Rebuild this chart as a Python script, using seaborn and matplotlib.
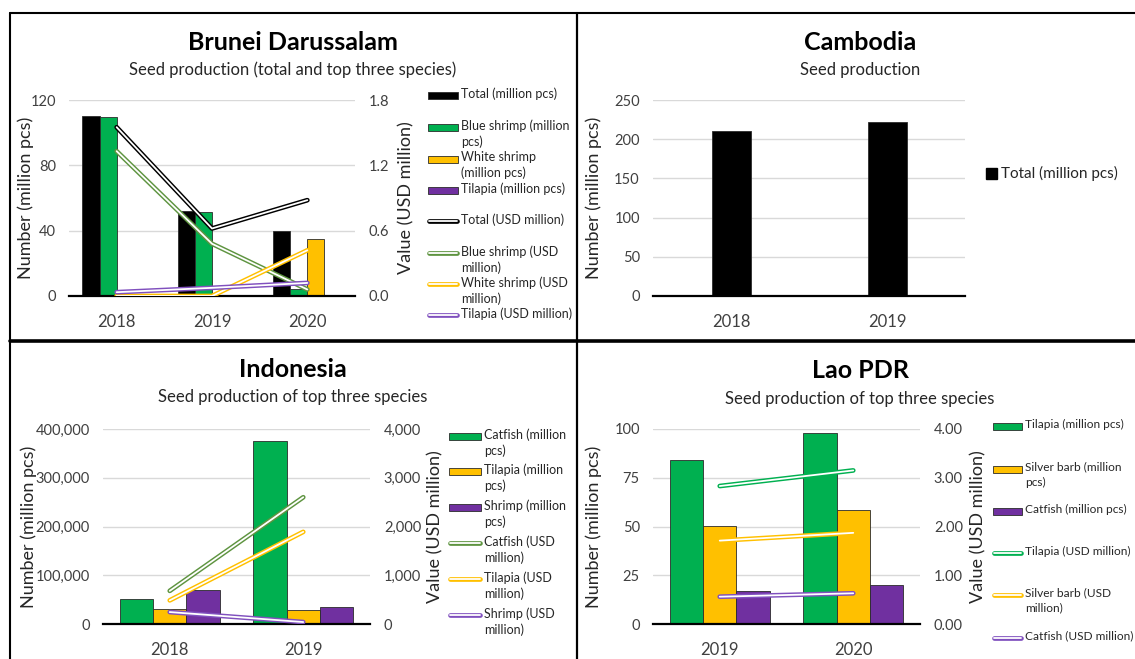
import numpy as np
import pandas as pd
import matplotlib
matplotlib.use("Agg")
import matplotlib.pyplot as plt
import matplotlib.patheffects as pe
from matplotlib.lines import Line2D
from matplotlib.patches import Rectangle
from matplotlib.ticker import StrMethodFormatter
import seaborn as sns

# ---- data ----
brunei_years = ["2018", "2019", "2020"]
brunei_total_pcs = [110, 52, 40]
brunei_blue_pcs = [109.5, 51.5, 4]
brunei_white_pcs = [0, 0, 35]
brunei_tilapia_pcs = [0, 0, 0]
brunei_total_usd = [1.55, 0.62, 0.88]
brunei_blue_usd = [1.33, 0.48, 0.06]
brunei_white_usd = [0.0, 0.0, 0.42]
brunei_tilapia_usd = [0.035, 0.075, 0.12]

cambodia_years = ["2018", "2019"]
cambodia_total_pcs = [210, 222]

indo_years = ["2018", "2019"]
indo_catfish_pcs = [52000, 375000]
indo_tilapia_pcs = [31000, 29000]
indo_shrimp_pcs = [69000, 35500]
indo_catfish_usd = [680, 2600]
indo_tilapia_usd = [485, 1890]
indo_shrimp_usd = [245, 40]

lao_years = ["2019", "2020"]
lao_tilapia_pcs = [84, 97.8]
lao_silver_pcs = [50.5, 58.5]
lao_catfish_pcs = [16.8, 19.8]
lao_tilapia_usd = [2.83, 3.15]
lao_silver_usd = [1.71, 1.87]
lao_catfish_usd = [0.56, 0.63]

GREEN, YELLOW, PURPLE, BLACK = "#00B050", "#FFC000", "#7030A0", "#000000"
OLIVE, LPURPLE = "#5E9440", "#8050BE"

sns.set_theme(style="white")
plt.rcParams["font.family"] = ["Lato", "DejaVu Sans"]

W, H = 1135, 659
fig = plt.figure(figsize=(W / 100, H / 100), dpi=100)


def fy(y):
    return 1 - y / H


def double_line(color):
    return dict(color="white", lw=1.3, solid_capstyle="round",
                path_effects=[pe.Stroke(linewidth=3.4, foreground=color), pe.Normal()])


def panel(box, years, bars, lines, lticks, lfmt, rticks, rfmt, width, llab_x, rlab_x):
    x0, y0, x1, y1 = box
    ax = fig.add_axes([x0 / W, fy(y1), (x1 - x0) / W, (y1 - y0) / H])
    df = pd.DataFrame([(yr, name, v) for name, vals, _ in bars for yr, v in zip(years, vals)],
                      columns=["year", "series", "value"])
    if len(bars) > 1:
        sns.barplot(data=df, x="year", y="value", hue="series",
                    hue_order=[b[0] for b in bars], palette={b[0]: b[2] for b in bars},
                    width=width, gap=0, saturation=1, errorbar=None, legend=False,
                    edgecolor="#2b2b2b", linewidth=0.6, ax=ax)
    else:
        sns.barplot(data=df, x="year", y="value", color=bars[0][2], width=width,
                    saturation=1, errorbar=None, edgecolor="#2b2b2b", linewidth=0.6, ax=ax)
    n = len(years)
    ax.set_xlim(-0.5, n - 0.5)
    ax.set_ylim(lticks[0], lticks[-1])
    ax.set_yticks(lticks)
    ax.yaxis.set_major_formatter(StrMethodFormatter(lfmt))
    ax.grid(axis="y", color="#d9d9d9", lw=1)
    ax.set_axisbelow(True)
    ax.set_xticks(np.arange(n + 1) - 0.5, minor=True)
    ax.tick_params(axis="x", which="major", length=0, pad=13, labelsize=12, labelcolor="#404040")
    ax.tick_params(axis="x", which="minor", length=5, width=1.3, color="black")
    ax.tick_params(axis="y", length=0, pad=9.5, labelsize=10.5, labelcolor="#404040")
    for s in ["left", "right", "top"]:
        ax.spines[s].set_visible(False)
    ax.spines["bottom"].set_color("black")
    ax.spines["bottom"].set_linewidth(1.6)
    ax.set_xlabel("")
    ax.set_ylabel("Number (million pcs)", fontsize=13, color="#262626")
    ax.yaxis.set_label_coords((llab_x - x0) / (x1 - x0), 0.5)
    if lines:
        ax2 = ax.twinx()
        for name, vals, color in lines:
            ax2.plot(np.arange(n), vals, **double_line(color))
        ax2.set_ylim(rticks[0], rticks[-1])
        ax2.set_yticks(rticks)
        ax2.yaxis.set_major_formatter(StrMethodFormatter(rfmt))
        ax2.tick_params(axis="y", length=0, pad=10, labelsize=10.5, labelcolor="#404040")
        for s in ax2.spines.values():
            s.set_visible(False)
        ax2.grid(False)
        ax2.set_ylabel("Value (USD million)", fontsize=13, color="#262626")
        ax2.yaxis.set_label_coords((rlab_x - x0) / (x1 - x0), 0.5)
    return ax


def legend(entries, x, ys, fs, hw, lsp):
    fpx = fs * 100 / 72
    for (kind, color, label), y in zip(entries, ys):
        if kind == "bar":
            fig.add_artist(Rectangle((x / W, fy(y + 3.5)), hw / W, 7 / H, transform=fig.transFigure,
                                     facecolor=color, edgecolor="#2b2b2b", lw=0.6))
        else:
            fig.add_artist(Line2D([(x + 1) / W, (x + hw - 1) / W], [fy(y), fy(y)],
                                  transform=fig.transFigure, **double_line(color)))
        fig.text((x + hw + 3) / W, fy(y - 0.62 * fpx), label, fontsize=fs, va="top", ha="left",
                 linespacing=lsp, color="#262626")


def titles(cx, y, title, sub):
    fig.text(cx / W, fy(y), title, ha="center", va="center", fontsize=18, fontweight="bold",
             color="black")
    fig.text(cx / W, fy(y + 28), sub, ha="center", va="center", fontsize=12, color="#262626")


# ---- Brunei ----
panel((69, 100, 355, 296), brunei_years,
      [("Total", brunei_total_pcs, BLACK), ("Blue shrimp", brunei_blue_pcs, GREEN),
       ("White shrimp", brunei_white_pcs, YELLOW), ("Tilapia", brunei_tilapia_pcs, PURPLE)],
      [("Total", brunei_total_usd, BLACK), ("Blue shrimp", brunei_blue_usd, OLIVE),
       ("White shrimp", brunei_white_usd, YELLOW), ("Tilapia", brunei_tilapia_usd, LPURPLE)],
      [0, 40, 80, 120], "{x:.0f}", [0, 0.6, 1.2, 1.8], "{x:.1f}", 0.72, 34, 398)
titles(293, 42, "Brunei Darussalam", "Seed production (total and top three species)")
legend([("bar", BLACK, "Total (million pcs)"),
        ("bar", GREEN, "Blue shrimp (million\npcs)"),
        ("bar", YELLOW, "White shrimp\n(million pcs)"),
        ("bar", PURPLE, "Tilapia (million pcs)"),
        ("line", BLACK, "Total (USD million)"),
        ("line", OLIVE, "Blue shrimp (USD\nmillion)"),
        ("line", YELLOW, "White shrimp (USD\nmillion)"),
        ("line", LPURPLE, "Tilapia (USD million)")],
       428, [95, 127, 159, 190, 221, 253, 284, 315], 9, 30, 1.35)

# ---- Cambodia ----
panel((653, 100, 965, 296), cambodia_years, [("Total", cambodia_total_pcs, BLACK)], [],
      [0, 50, 100, 150, 200, 250], "{x:.0f}", None, None, 0.25, 602, None)
titles(860, 42, "Cambodia", "Seed production")
fig.add_artist(Rectangle((986 / W, fy(178.5)), 11 / W, 11 / H, transform=fig.transFigure,
                         facecolor=BLACK, edgecolor=BLACK))
fig.text(1001 / W, fy(173), "Total (million pcs)", fontsize=11, va="center", ha="left",
         color="#262626")

# ---- Indonesia ----
panel((103, 429, 370, 624), indo_years,
      [("Catfish", indo_catfish_pcs, GREEN), ("Tilapia", indo_tilapia_pcs, YELLOW),
       ("Shrimp", indo_shrimp_pcs, PURPLE)],
      [("Catfish", indo_catfish_usd, OLIVE), ("Tilapia", indo_tilapia_usd, YELLOW),
       ("Shrimp", indo_shrimp_usd, LPURPLE)],
      [0, 100000, 200000, 300000, 400000], "{x:,.0f}", [0, 1000, 2000, 3000, 4000], "{x:,.0f}",
      0.75, 37, 427)
titles(293, 369, "Indonesia", "Seed production of top three species")
legend([("bar", GREEN, "Catfish (million\npcs)"),
        ("bar", YELLOW, "Tilapia (million\npcs)"),
        ("bar", PURPLE, "Shrimp (million\npcs)"),
        ("line", OLIVE, "Catfish (USD\nmillion)"),
        ("line", YELLOW, "Tilapia (USD\nmillion)"),
        ("line", LPURPLE, "Shrimp (USD\nmillion)")],
       449, [436, 471, 507, 543, 579, 615], 9, 32, 1.35)

# ---- Lao PDR ----
panel((653, 429, 920, 624), lao_years,
      [("Tilapia", lao_tilapia_pcs, GREEN), ("Silver barb", lao_silver_pcs, YELLOW),
       ("Catfish", lao_catfish_pcs, PURPLE)],
      [("Tilapia", lao_tilapia_usd, GREEN), ("Silver barb", lao_silver_usd, YELLOW),
       ("Catfish", lao_catfish_usd, LPURPLE)],
      [0, 25, 50, 75, 100], "{x:.0f}", [0, 1, 2, 3, 4], "{x:.2f}", 0.75, 602, 970)
titles(860, 371, "Lao PDR", "Seed production of top three species")
legend([("bar", GREEN, "Tilapia (million pcs)"),
        ("bar", YELLOW, "Silver barb (million\npcs)"),
        ("bar", PURPLE, "Catfish (million pcs)"),
        ("line", GREEN, "Tilapia (USD million)"),
        ("line", YELLOW, "Silver barb (USD\nmillion)"),
        ("line", LPURPLE, "Catfish (USD million)")],
       993, [426, 469, 511, 553, 595, 638], 8.6, 29, 1.45)

# ---- panel borders ----
for xs, ys, lw in [((10, 1135), (13, 13), 1.5), ((10, 10), (13, 659), 1.5),
                   ((577, 577), (13, 659), 1.6), ((10, 1135), (341, 341), 2.6)]:
    fig.add_artist(Line2D([x / W for x in xs], [fy(y) for y in ys], transform=fig.transFigure,
                          color="black", lw=lw))

fig.savefig("out.png", dpi=100)
